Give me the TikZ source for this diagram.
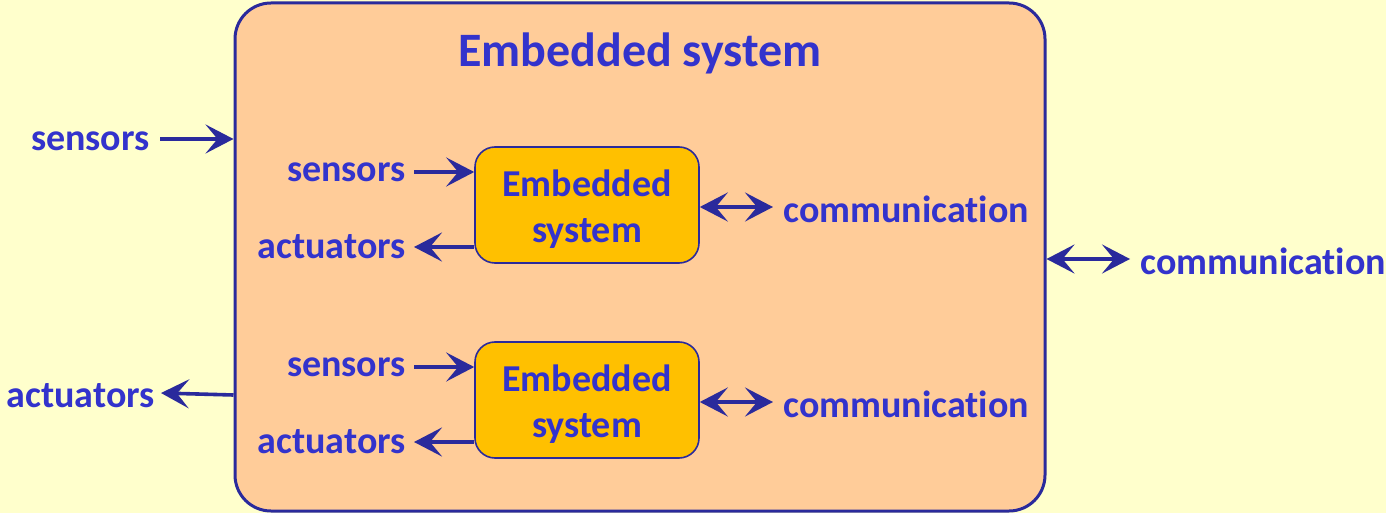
\documentclass[tikz,border=0pt]{standalone}
\usepackage{fontspec}
\setmainfont{Carlito}[RawFeature=-liga]
\usetikzlibrary{arrows.meta}
\definecolor{paper}{HTML}{FFFFCC}
\definecolor{outerfill}{HTML}{FFCC99}
\definecolor{innerfill}{HTML}{FFC000}
\definecolor{edge}{HTML}{2A2A9C}
\definecolor{ink}{HTML}{3333CC}
\tikzset{
  lbl/.style={text=ink, font=\fontsize{19}{20}\selectfont\bfseries, inner sep=0pt},
  sysbox/.style={draw=edge, fill=innerfill, line width=0.8pt, rounded corners=10pt,
    minimum width=112pt, minimum height=58pt, inner sep=0pt, align=center,
    text=ink, font=\fontsize{19}{23}\selectfont\bfseries},
  link/.style={draw=edge, line width=1.8pt, -{Stealth[length=14pt, width=14.5pt, inset=6pt]}},
  dlink/.style={draw=edge, line width=1.8pt,
    {Stealth[length=14pt, width=14.5pt, inset=6pt]}-{Stealth[length=14pt, width=14.5pt, inset=6pt]}},
}
\begin{document}
\begin{tikzpicture}[x=0.5pt, y=-0.5pt]
  \fill[paper] (0,0) rectangle (1386,513);
  \useasboundingbox (0,0) rectangle (1386,513);

  % outer embedded system
  \node[draw=edge, fill=outerfill, line width=1.5pt, rounded corners=18pt,
        minimum width=405pt, minimum height=254pt, inner sep=0pt] (outer) at (640,257) {};
  \node[text=ink, font=\fontsize{24}{26}\selectfont\bfseries, inner sep=0pt] (title) at (640,53) {Embedded system};

  % two inner embedded systems
  \node[draw=edge, fill=innerfill, line width=0.8pt, rounded corners=10pt,
        minimum width=112pt, minimum height=58pt] (es1) at (587,205) {};
  \node[draw=edge, fill=innerfill, line width=0.8pt, rounded corners=10pt,
        minimum width=112pt, minimum height=58pt] (es2) at (587,400) {};
  \node[sysbox, draw=none, fill=none, minimum width=0pt, minimum height=0pt] (t1) at (587,209) {Embedded\\system};
  \node[sysbox, draw=none, fill=none, minimum width=0pt, minimum height=0pt] (t2) at (587,404) {Embedded\\system};

  % outer labels
  \node[lbl, anchor=east] (osens) at (150,141) {sensors};
  \node[lbl, anchor=east] (oact) at (155,396) {actuators};
  \node[lbl, anchor=west] (ocomm) at (1140,261) {communication};
  \coordinate (osensin) at (outer.west |- 0,139);
  \coordinate (oactout) at (outer.west |- 0,395);
  \coordinate (ocommat) at (outer.east |- 0,259);
  \draw[link] ([xshift=5pt]osens.east |- 0,139) -- (osensin);
  \draw[link] (oactout) -- ([xshift=3pt]oact.east |- 0,393);
  \draw[dlink] (ocommat) -- ([xshift=-5pt]ocomm.west |- 0,259);

  % inner labels, first system
  \node[lbl, anchor=east] (s1) at (406,172) {sensors};
  \node[lbl, anchor=east] (a1) at (406,247) {actuators};
  \node[lbl, anchor=west] (c1) at (783,209) {communication};
  \draw[link] ([xshift=4pt]s1.east |- 0,172) -- (es1.west |- 0,172);
  \draw[link] (es1.west |- 0,247) -- ([xshift=4pt]a1.east |- 0,247);
  \draw[dlink] (es1.east |- 0,207) -- ([xshift=-5pt]c1.west |- 0,207);

  % inner labels, second system
  \node[lbl, anchor=east] (s2) at (406,367) {sensors};
  \node[lbl, anchor=east] (a2) at (406,442) {actuators};
  \node[lbl, anchor=west] (c2) at (783,404) {communication};
  \draw[link] ([xshift=4pt]s2.east |- 0,367) -- (es2.west |- 0,367);
  \draw[link] (es2.west |- 0,442) -- ([xshift=4pt]a2.east |- 0,442);
  \draw[dlink] (es2.east |- 0,402) -- ([xshift=-5pt]c2.west |- 0,402);
\end{tikzpicture}
\end{document}
